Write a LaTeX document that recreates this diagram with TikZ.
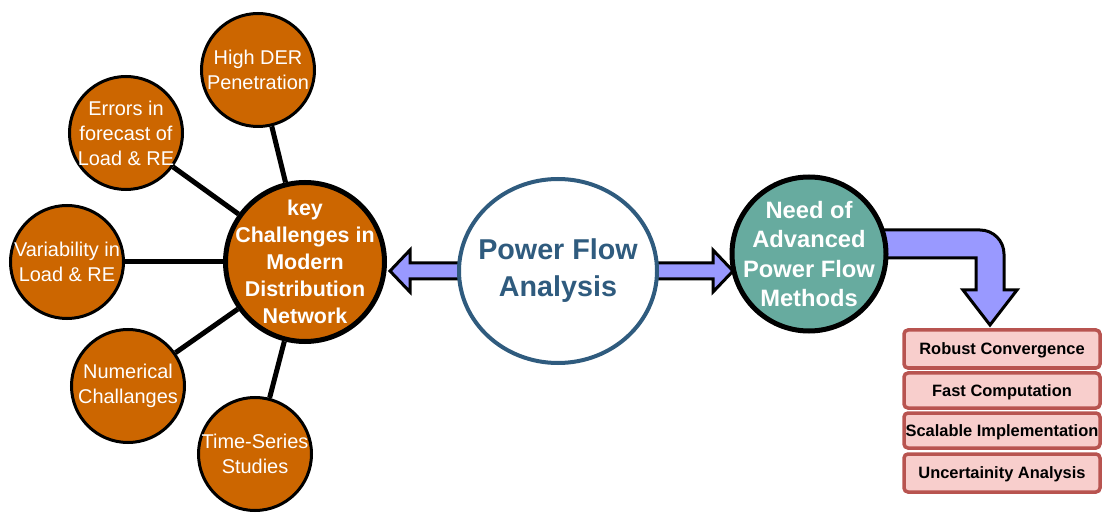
\documentclass[tikz,border=0pt]{standalone}
\usepackage{fontspec}
\setmainfont{Liberation Sans}
\usetikzlibrary{shapes.geometric}
\definecolor{orng}{HTML}{CC6600}
\definecolor{teal2}{HTML}{67AB9F}
\definecolor{arrblue}{HTML}{9999FF}
\definecolor{pfblue}{HTML}{2F5B7E}
\definecolor{boxfill}{HTML}{F8CECC}
\definecolor{boxline}{HTML}{B85450}
\tikzset{
  small/.style={circle, draw=black, line width=3bp, fill=orng, minimum size=113bp, inner sep=0pt},
  smalltext/.style={align=center, text=white, inner sep=0pt, font=\fontsize{20}{25}\selectfont},
  hub/.style={circle, draw=black, line width=5bp, fill=orng, minimum size=159bp, inner sep=0pt},
  hubtext/.style={align=center, text=white, inner sep=0pt, font=\fontsize{21.5}{27}\selectfont\bfseries},
  need/.style={circle, draw=black, line width=5bp, fill=teal2, minimum size=154bp, inner sep=0pt},
  needtext/.style={align=center, text=white, inner sep=0pt, font=\fontsize{23.8}{29.5}\selectfont\bfseries},
  pfa/.style={ellipse, draw=pfblue, line width=4bp, fill=white, minimum width=198bp, minimum height=184bp, inner sep=0pt},
  pfatext/.style={align=center, text=pfblue, inner sep=0pt, font=\fontsize{28.8}{37}\selectfont\bfseries},
  item/.style={rectangle, rounded corners=4bp, draw=boxline, line width=3.5bp, fill=boxfill, minimum width=196bp, inner sep=0pt, text depth=0pt, font=\fontsize{16.5}{18}\selectfont\bfseries},
  spoke/.style={line width=5bp, black},
  blockarrow/.style={draw=black, line width=3bp, fill=arrblue, line join=miter}
}
\begin{document}
\begin{tikzpicture}[x=1bp, y=-1bp]
\useasboundingbox (0,0) rectangle (1113,523);
% hub and spokes
\node[hub] (hub) at (305,262) {};
\node[small] (der) at (258,70) {};
\node[small] (err) at (126,133) {};
\node[small] (var) at (67,262) {};
\node[small] (num) at (128,386) {};
\node[small] (ts) at (255,454) {};
\foreach \n in {der,err,var,num,ts} \draw[spoke] (\n) -- (hub);
\node[hubtext] (hubt) at (hub) {key\\Challenges in\\Modern\\Distribution\\Network};
\node[smalltext] (dert) at (der) {High DER\\Penetration};
\node[smalltext] (errt) at (err) {Errors in\\forecast of\\Load \& RE};
\node[smalltext] (vart) at (var) {Variability in\\Load \& RE};
\node[smalltext] (numt) at (num) {Numerical\\Challanges};
\node[smalltext] (tst) at (ts) {Time-Series\\Studies};
% block arrows
\draw[blockarrow] (460,263) -- (410,263) -- (410,250) -- (390,271) -- (410,292) -- (410,279) -- (460,279) -- cycle;
\draw[blockarrow] (655,263) -- (713,263) -- (713,250) -- (733,271) -- (713,292) -- (713,279) -- (655,279) -- cycle;
\draw[blockarrow] (870,230) -- (980,230) arc[start angle=-90, end angle=0, radius=24] -- (1004,290) -- (1017,290) -- (990,325) -- (963,290) -- (976,290) -- (976,258) -- (870,258) -- cycle;
\node[pfa] (pfa) at (558,271) {};
\node[pfatext] (pfat) at (pfa) {Power Flow\\Analysis};
\node[need] (need) at (809,254) {};
\node[needtext] (needt) at (need) {Need of\\Advanced\\Power Flow\\Methods};
% list
\node[item, minimum height=38bp] (b1) at (1002,349) {Robust Convergence};
\node[item, minimum height=35bp] (b2) at (1002,390.5) {Fast Computation};
\node[item, minimum height=35bp] (b3) at (1002,430.5) {Scalable Implementation};
\node[item, minimum height=38bp] (b4) at (1002,473) {Uncertainity Analysis};
\end{tikzpicture}
\end{document}
